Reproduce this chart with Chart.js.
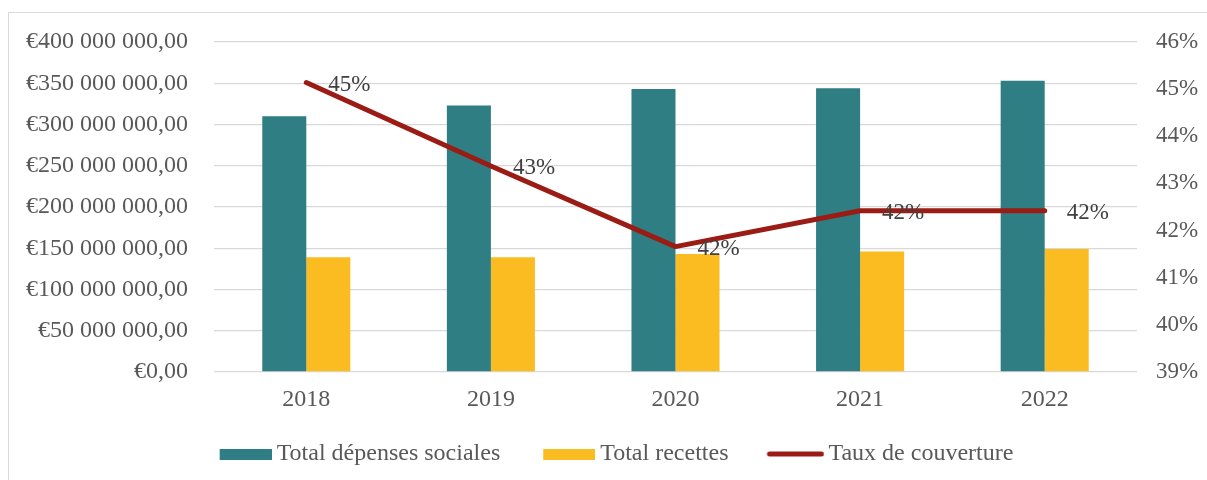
<!DOCTYPE html>
<html>
<head>
<meta charset="utf-8">
<script src="https://cdn.jsdelivr.net/npm/chart.js@4/dist/chart.umd.min.js"></script>
<style>
  html, body { margin: 0; padding: 0; background: #fff; }
  canvas { display: block; }
</style>
</head>
<body>
<canvas id="coverageChart" width="1207" height="480"></canvas>
<script>
const years = ['2018', '2019', '2020', '2021', '2022'];
const depensesSociales = [310000000, 323000000, 343000000, 344000000, 353000000];
const recettes = [139000000, 139000000, 143000000, 146000000, 149000000];
const tauxCouverture = [0.4514, 0.4337, 0.4166, 0.4242, 0.4242];

const leftTicks = { min: 0, max: 400000000, step: 50000000 };
const rightTicks = { min: 0.39, max: 0.46, step: 0.01 };

const TEAL = '#2f7e83';
const YELLOW = '#fbbc22';
const RED = '#9b1c15';
const GRID = '#d9d9d9';
const TEXT = '#595959';
const SERIF = '"Liberation Serif", "Times New Roman", serif';

function euro(v) {
    const s = Math.round(v).toString().replace(/\B(?=(\d{3})+(?!\d))/g, '\u00a0');
    return '€' + s + ',00';
}

function pct(v) {
    return Math.round(v * 100) + '%';
}

// legend markers: swatch sits on the right of a wider transparent image,
// so the gap between marker and text stays tight
function marker(w, h, draw) {
    const c = document.createElement('canvas');
    c.width = w;
    c.height = h;
    draw(c.getContext('2d'));
    return c;
}

const tealBox = marker(74, 11, ctx => { ctx.fillStyle = TEAL; ctx.fillRect(22, 0, 52, 11); });
const yellowBox = marker(74, 11, ctx => { ctx.fillStyle = YELLOW; ctx.fillRect(22, 0, 52, 11); });
const redLine = marker(76, 6, ctx => {
    ctx.strokeStyle = RED;
    ctx.lineWidth = 5;
    ctx.lineCap = 'round';
    ctx.beginPath();
    ctx.moveTo(21, 3);
    ctx.lineTo(73, 3);
    ctx.stroke();
});

const frame = {
    id: 'frame',
    beforeDraw(chart) {
        const ctx = chart.ctx;
        ctx.save();
        ctx.strokeStyle = GRID;
        ctx.lineWidth = 1;
        ctx.strokeRect(8.5, 12.5, 1400, 600);
        ctx.restore();
    }
};

const pointLabels = {
    id: 'pointLabels',
    afterDatasetsDraw(chart) {
        const ctx = chart.ctx;
        const meta = chart.getDatasetMeta(2);
        ctx.save();
        ctx.font = '23px ' + SERIF;
        ctx.fillStyle = '#404040';
        ctx.textAlign = 'left';
        ctx.textBaseline = 'middle';
        meta.data.forEach((pt, i) => {
            ctx.fillText(pct(tauxCouverture[i]), pt.x + 22, pt.y + 2);
        });
        ctx.restore();
    }
};

new Chart(document.getElementById('coverageChart'), {
    type: 'bar',
    data: {
        labels: years,
        datasets: [{
            label: 'Total dépenses sociales',
            data: depensesSociales,
            backgroundColor: TEAL,
            yAxisID: 'y',
            categoryPercentage: 0.477,
            barPercentage: 1.0
        }, {
            label: 'Total recettes',
            data: recettes,
            backgroundColor: YELLOW,
            yAxisID: 'y',
            categoryPercentage: 0.477,
            barPercentage: 1.0
        }, {
            type: 'line',
            label: 'Taux de couverture',
            data: tauxCouverture,
            borderColor: RED,
            backgroundColor: RED,
            borderWidth: 5,
            borderCapStyle: 'round',
            borderJoinStyle: 'round',
            pointRadius: 0,
            tension: 0,
            yAxisID: 'y1',
            order: -1
        }]
    },
    options: {
        responsive: false,
        animation: false,
        devicePixelRatio: 1,
        layout: {
            padding: { top: 42, left: 11, right: 0, bottom: 4 }
        },
        scales: {
            x: {
                grid: { display: false, drawTicks: false },
                border: { display: false },
                ticks: {
                    color: TEXT,
                    padding: 13,
                    font: { family: SERIF, size: 24 }
                },
                afterFit(scale) { scale.height = 42; }
            },
            y: {
                position: 'left',
                min: leftTicks.min,
                max: leftTicks.max,
                grid: { color: GRID, lineWidth: 1.3, drawTicks: false },
                border: { display: false },
                ticks: {
                    stepSize: leftTicks.step,
                    color: TEXT,
                    padding: 26,
                    font: { family: SERIF, size: 24 },
                    callback: v => euro(v)
                },
                afterFit(scale) { scale.width = 203; }
            },
            y1: {
                position: 'right',
                min: rightTicks.min,
                max: rightTicks.max,
                grid: { drawOnChartArea: false, drawTicks: false },
                border: { display: false },
                ticks: {
                    stepSize: rightTicks.step,
                    color: TEXT,
                    padding: 19,
                    font: { family: SERIF, size: 23 },
                    callback: v => pct(v)
                },
                afterFit(scale) { scale.width = 70; }
            }
        },
        plugins: {
            tooltip: { enabled: false },
            legend: {
                position: 'bottom',
                labels: {
                    usePointStyle: true,
                    pointStyleWidth: 60,
                    boxHeight: 11,
                    padding: 28,
                    color: TEXT,
                    font: { family: SERIF, size: 24 },
                    generateLabels: () => [
                        { text: 'Total dépenses sociales', pointStyle: tealBox, fontColor: TEXT, datasetIndex: 0, lineWidth: 0 },
                        { text: 'Total recettes', pointStyle: yellowBox, fontColor: TEXT, datasetIndex: 1, lineWidth: 0 },
                        { text: 'Taux de couverture', pointStyle: redLine, fontColor: TEXT, datasetIndex: 2, lineWidth: 0 }
                    ]
                }
            }
        }
    },
    plugins: [frame, pointLabels]
});
</script>
</body>
</html>
